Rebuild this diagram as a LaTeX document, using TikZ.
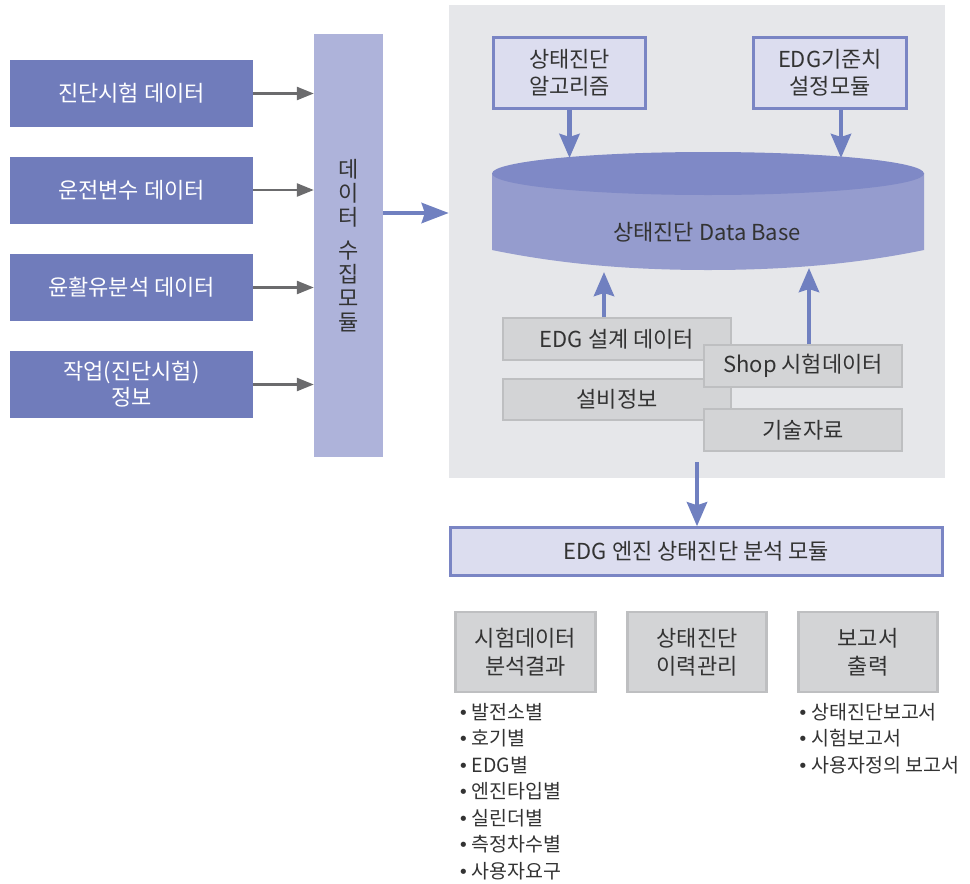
\documentclass[tikz,border=0pt]{standalone}
\usepackage{fontspec}
\setmainfont{Noto Sans CJK KR}
\newfontfamily\bulfont{DejaVu Sans}
\usetikzlibrary{arrows.meta}
\definecolor{leftbox}{HTML}{707CBB}
\definecolor{barcol}{HTML}{AEB3DA}
\definecolor{panel}{HTML}{E6E7EA}
\definecolor{lightbox}{HTML}{DCDDEF}
\definecolor{blueedge}{HTML}{7A85C4}
\definecolor{bluearrow}{HTML}{7080C0}
\definecolor{graybox}{HTML}{D3D4D6}
\definecolor{grayedge}{HTML}{BEBFC1}
\definecolor{grayarrow}{HTML}{6B6B6D}
\definecolor{cyltop}{HTML}{7F89C6}
\definecolor{cylbody}{HTML}{959CCE}
\definecolor{txt}{HTML}{333333}
\newcommand{\bul}{{\bulfont\fontsize{18}{18}\selectfont •}\hspace{3pt}}
\begin{document}
\begin{tikzpicture}[x=1pt,y=-1pt,
  font=\fontsize{22}{28}\selectfont, text=txt,
  srcbox/.style={fill=leftbox, text=white, minimum width=243pt, minimum height=67pt, inner sep=0pt, align=center},
  algbox/.style={fill=lightbox, draw=blueedge, line width=2.5pt, inner sep=0pt, align=center},
  infobox/.style={fill=graybox, draw=grayedge, line width=2pt, inner sep=0pt, align=center},
  grayarr/.style={draw=grayarrow, line width=2.5pt, -{Triangle[length=17pt,width=13pt]}},
  bluearr/.style={draw=bluearrow, line width=4.5pt, -{Stealth[length=24pt,width=20pt,inset=3pt]}},
  listitem/.style={anchor=west, inner sep=0pt, font=\fontsize{19.5}{19.5}\selectfont}
]
\useasboundingbox (0,0) rectangle (970,884);

% left source boxes
\node[srcbox] (s1) at (131.5,93.5) {진단시험 데이터};
\node[srcbox] (s2) at (131.5,190) {운전변수 데이터};
\node[srcbox] (s3) at (131.5,287.5) {윤활유분석 데이터};
\node[srcbox, font=\fontsize{22}{26}\selectfont] (s4) at (131.5,384.5) {작업(진단시험)\\정보};

% collector bar
\node[fill=barcol, minimum width=69pt, minimum height=423pt, inner sep=0pt, align=center,
      font=\fontsize{22}{24}\selectfont] (bar) at (348.5,245.5) {데\\이\\터\\[9pt]수\\집\\모\\듈};

\foreach \s in {s1,s2,s3,s4}
  \draw[grayarr] (\s.east) -- (\s.east -| bar.west);

% panel
\node[fill=panel, minimum width=496pt, minimum height=473pt, inner sep=0pt] (panel) at (697,241.5) {};

\draw[bluearr, -{Stealth[length=27pt,width=20pt,inset=3pt]}] ([yshift=32.5pt]bar.east) -- ([yshift=32.5pt]bar.east -| panel.west);

% top boxes
\node[algbox, minimum width=152pt, minimum height=71pt, font=\fontsize{22}{27}\selectfont] (alg) at (569.5,73) {상태진단\\알고리즘};
\node[algbox, minimum width=153pt, minimum height=71pt, font=\fontsize{22}{27}\selectfont] (std) at (830,73) {EDG기준치\\설정모듈};

% database cylinder
\fill[cylbody] (492,173) -- (492,250) .. controls (560,264) and (630,270) .. (708,270)
   .. controls (786,270) and (856,264) .. (924,250) -- (924,173) -- cycle;
\fill[cyltop] (708,173.5) ellipse [x radius=216pt, y radius=21.5pt];
\node[font=\fontsize{22}{22}\selectfont] (db) at (707,232) {상태진단 Data Base};
\coordinate (dbtop) at (708,158);
\coordinate (dbbot1) at (604,272);
\coordinate (dbbot2) at (809,268);

\draw[bluearr] (alg.south) -- (alg.south |- dbtop);
\draw[bluearr] ([xshift=11pt]std.south) -- ([xshift=11pt]std.south |- dbtop);

% info boxes
\node[infobox, minimum width=228pt, minimum height=42pt] (design) at (617,339) {EDG 설계 데이터};
\node[infobox, minimum width=228pt, minimum height=41pt] (equip) at (617,399.5) {설비정보};
\node[infobox, minimum width=198pt, minimum height=42pt] (shop) at (803,366) {Shop 시험데이터};
\node[infobox, minimum width=198pt, minimum height=42pt] (tech) at (803,430) {기술자료};

\draw[bluearr] (design.north -| dbbot1) -- (dbbot1);
\draw[bluearr] (shop.north -| dbbot2) -- (dbbot2);

% engine analysis module
\node[algbox, minimum width=492pt, minimum height=48pt] (eng) at (696.5,551.5) {EDG 엔진 상태진단 분석 모듈};
\coordinate (panout) at (697,462);
\draw[bluearr] (panout) -- (panout |- eng.north);

% bottom boxes
\node[infobox, line width=2.5pt, minimum width=140pt, minimum height=80pt] (b1) at (525.5,652) {시험데이터\\분석결과};
\node[infobox, line width=2.5pt, minimum width=139pt, minimum height=80pt] (b2) at (697,652) {상태진단\\이력관리};
\node[infobox, line width=2.5pt, minimum width=139pt, minimum height=80pt] (b3) at (868,652) {보고서\\출력};

% lists
\node[listitem] (l1) at (458,712) {\bul 발전소별};
\node[listitem] (l2) at (458,738.5) {\bul 호기별};
\node[listitem] (l3) at (458,765) {\bul EDG별};
\node[listitem] (l4) at (458,791.5) {\bul 엔진타입별};
\node[listitem] (l5) at (458,818) {\bul 실린더별};
\node[listitem] (l6) at (458,844.5) {\bul 측정차수별};
\node[listitem] (l7) at (458,871) {\bul 사용자요구};

\node[listitem] (r1) at (797.5,712) {\bul 상태진단보고서};
\node[listitem] (r2) at (797.5,738.5) {\bul 시험보고서};
\node[listitem] (r3) at (797.5,765) {\bul 사용자정의 보고서};
\end{tikzpicture}
\end{document}
